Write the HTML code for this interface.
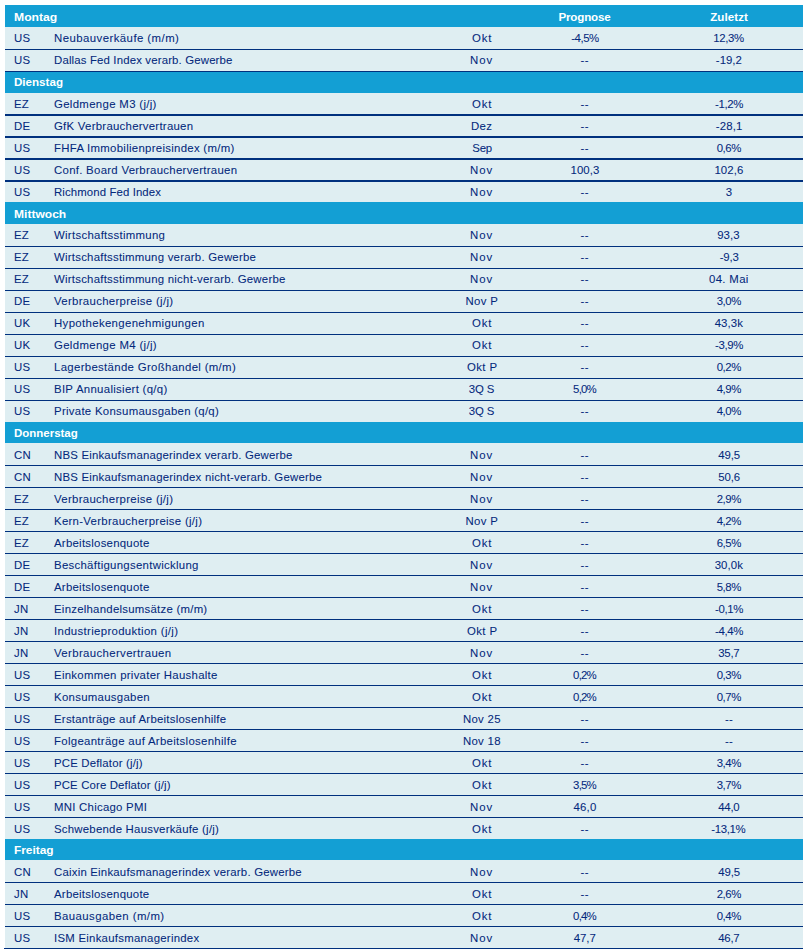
<!DOCTYPE html>
<html lang="de">
<head>
<meta charset="utf-8">
<title>Wochenkalender</title>
<style>
html,body{margin:0;padding:0;background:#fff;}
body{width:807px;height:952px;overflow:hidden;position:relative;font-family:"Liberation Sans",Arial,sans-serif;}
.tbl{position:absolute;left:5px;top:0;width:798px;height:952px;}
.row{position:absolute;left:0;width:100%;background:#dfeef2;}
.row.day{background:#139fd4;}
.ln{position:absolute;left:0;width:100%;height:1px;background:#00307e;}
.ln.thick{height:2px;}
.ln.end{left:-1px;width:calc(100% + 1px);}
.c{position:absolute;white-space:nowrap;line-height:14px;height:14px;font-size:11.4px;color:#03287c;letter-spacing:0.22px;-webkit-text-stroke:0.06px #03287c;}
.day .c{font-weight:bold;color:#fff;font-size:11.6px;letter-spacing:0;-webkit-text-stroke:0;}
.cc{text-align:center;width:120px;}
.cty{left:9px;}.ind{left:49px;}.day .lbl{transform-origin:0 0;}
</style>
</head>
<body>
<div class="tbl">
<div class="row day" style="top:5px;height:22px"><span class="c lbl" style="top:4.9px;left:9px;transform:scaleX(1.05)">Montag</span><span class="c cc" style="top:4.9px;left:519.5px;letter-spacing:-0.186px">Prognose</span><span class="c cc" style="top:4.9px;left:664.1px;letter-spacing:0.067px">Zuletzt</span></div>
<div class="row" style="top:27px;height:23px">
  <span class="c cty" style="top:4.05px">US</span>
  <span class="c ind" style="top:4.05px;letter-spacing:0.441px">Neubauverkäufe (m/m)</span>
  <span class="c cc" style="top:4.05px;left:417.15px;letter-spacing:0.87px">Okt</span>
  <span class="c cc" style="top:4.05px;left:520px;letter-spacing:-0.43px">-4,5%</span>
  <span class="c cc" style="top:4.05px;left:663.45px;letter-spacing:-0.355px">12,3%</span>
  <div class="ln" style="top:22px"></div>
</div>
<div class="row" style="top:50px;height:22px">
  <span class="c cty" style="top:3.05px">US</span>
  <span class="c ind" style="top:3.05px;letter-spacing:0.159px">Dallas Fed Index verarb. Gewerbe</span>
  <span class="c cc" style="top:3.05px;left:416.65px;letter-spacing:0.97px">Nov</span>
  <span class="c cc" style="top:3.05px;left:519.75px;letter-spacing:0.52px">--</span>
  <span class="c cc" style="top:3.05px;left:663.85px;letter-spacing:-0.005px">-19,2</span>
  <div class="ln" style="top:21px"></div>
</div>
<div class="row day" style="top:72px;height:21px"><span class="c lbl" style="top:2.9px;left:9px;transform:scaleX(1)">Dienstag</span></div>
<div class="row" style="top:93px;height:23px">
  <span class="c cty" style="top:4.05px">EZ</span>
  <span class="c ind" style="top:4.05px;letter-spacing:0.326px">Geldmenge M3 (j/j)</span>
  <span class="c cc" style="top:4.05px;left:417.15px;letter-spacing:0.87px">Okt</span>
  <span class="c cc" style="top:4.05px;left:519.75px;letter-spacing:0.52px">--</span>
  <span class="c cc" style="top:4.05px;left:664.1px;letter-spacing:-0.33px">-1,2%</span>
  <div class="ln thick" style="top:21px"></div>
</div>
<div class="row" style="top:116px;height:22px">
  <span class="c cty" style="top:3.05px">DE</span>
  <span class="c ind" style="top:3.05px;letter-spacing:0.263px">GfK Verbrauchervertrauen</span>
  <span class="c cc" style="top:3.05px;left:416.65px;letter-spacing:0.27px">Dez</span>
  <span class="c cc" style="top:3.05px;left:519.75px;letter-spacing:0.52px">--</span>
  <span class="c cc" style="top:3.05px;left:664.15px;letter-spacing:0.145px">-28,1</span>
  <div class="ln thick" style="top:20px"></div>
</div>
<div class="row" style="top:138px;height:22px">
  <span class="c cty" style="top:3.05px">US</span>
  <span class="c ind" style="top:3.05px;letter-spacing:0.29px">FHFA Immobilienpreisindex (m/m)</span>
  <span class="c cc" style="top:3.05px;left:417.1px;letter-spacing:-0.18px">Sep</span>
  <span class="c cc" style="top:3.05px;left:519.75px;letter-spacing:0.52px">--</span>
  <span class="c cc" style="top:3.05px;left:663.85px;letter-spacing:-0.413px">0,6%</span>
  <div class="ln thick" style="top:20px"></div>
</div>
<div class="row" style="top:160px;height:22px">
  <span class="c cty" style="top:3.05px">US</span>
  <span class="c ind" style="top:3.05px;letter-spacing:0.288px">Conf. Board Verbrauchervertrauen</span>
  <span class="c cc" style="top:3.05px;left:416.65px;letter-spacing:0.97px">Nov</span>
  <span class="c cc" style="top:3.05px;left:520px;letter-spacing:0.07px">100,3</span>
  <span class="c cc" style="top:3.05px;left:663.9px;letter-spacing:0.07px">102,6</span>
  <div class="ln thick" style="top:20px"></div>
</div>
<div class="row" style="top:182px;height:20px">
  <span class="c cty" style="top:3.05px">US</span>
  <span class="c ind" style="top:3.05px;letter-spacing:0.108px">Richmond Fed Index</span>
  <span class="c cc" style="top:3.05px;left:416.65px;letter-spacing:0.97px">Nov</span>
  <span class="c cc" style="top:3.05px;left:519.75px;letter-spacing:0.52px">--</span>
  <span class="c cc" style="top:3.05px;left:664.1px">3</span>
</div>
<div class="row day" style="top:202px;height:22px"><span class="c lbl" style="top:4.9px;left:9px;transform:scaleX(1.039)">Mittwoch</span></div>
<div class="row" style="top:224px;height:23px">
  <span class="c cty" style="top:4.05px">EZ</span>
  <span class="c ind" style="top:4.05px;letter-spacing:0.292px">Wirtschaftsstimmung</span>
  <span class="c cc" style="top:4.05px;left:416.65px;letter-spacing:0.97px">Nov</span>
  <span class="c cc" style="top:4.05px;left:519.75px;letter-spacing:0.52px">--</span>
  <span class="c cc" style="top:4.05px;left:663.4px;letter-spacing:0.087px">93,3</span>
  <div class="ln" style="top:22px"></div>
</div>
<div class="row" style="top:247px;height:22px">
  <span class="c cty" style="top:3.05px">EZ</span>
  <span class="c ind" style="top:3.05px;letter-spacing:0.241px">Wirtschaftsstimmung verarb. Gewerbe</span>
  <span class="c cc" style="top:3.05px;left:416.65px;letter-spacing:0.97px">Nov</span>
  <span class="c cc" style="top:3.05px;left:519.75px;letter-spacing:0.52px">--</span>
  <span class="c cc" style="top:3.05px;left:664.2px;letter-spacing:-0.18px">-9,3</span>
  <div class="ln" style="top:21px"></div>
</div>
<div class="row" style="top:269px;height:22px">
  <span class="c cty" style="top:3.05px">EZ</span>
  <span class="c ind" style="top:3.05px;letter-spacing:0.245px">Wirtschaftsstimmung nicht-verarb. Gewerbe</span>
  <span class="c cc" style="top:3.05px;left:416.65px;letter-spacing:0.97px">Nov</span>
  <span class="c cc" style="top:3.05px;left:519.75px;letter-spacing:0.52px">--</span>
  <span class="c cc" style="top:3.05px;left:663.85px;letter-spacing:0.337px">04. Mai</span>
  <div class="ln" style="top:21px"></div>
</div>
<div class="row" style="top:291px;height:22px">
  <span class="c cty" style="top:3.05px">DE</span>
  <span class="c ind" style="top:3.05px;letter-spacing:0.32px">Verbraucherpreise (j/j)</span>
  <span class="c cc" style="top:3.05px;left:416.75px;letter-spacing:0.345px">Nov P</span>
  <span class="c cc" style="top:3.05px;left:519.75px;letter-spacing:0.52px">--</span>
  <span class="c cc" style="top:3.05px;left:663.85px;letter-spacing:-0.413px">3,0%</span>
  <div class="ln" style="top:21px"></div>
</div>
<div class="row" style="top:313px;height:22px">
  <span class="c cty" style="top:3.05px">UK</span>
  <span class="c ind" style="top:3.05px;letter-spacing:0.352px">Hypothekengenehmigungen</span>
  <span class="c cc" style="top:3.05px;left:417.15px;letter-spacing:0.87px">Okt</span>
  <span class="c cc" style="top:3.05px;left:519.75px;letter-spacing:0.52px">--</span>
  <span class="c cc" style="top:3.05px;left:663.8px;letter-spacing:0.07px">43,3k</span>
  <div class="ln" style="top:21px"></div>
</div>
<div class="row" style="top:335px;height:22px">
  <span class="c cty" style="top:3.05px">UK</span>
  <span class="c ind" style="top:3.05px;letter-spacing:0.338px">Geldmenge M4 (j/j)</span>
  <span class="c cc" style="top:3.05px;left:417.15px;letter-spacing:0.87px">Okt</span>
  <span class="c cc" style="top:3.05px;left:519.75px;letter-spacing:0.52px">--</span>
  <span class="c cc" style="top:3.05px;left:664.1px;letter-spacing:-0.33px">-3,9%</span>
  <div class="ln" style="top:21px"></div>
</div>
<div class="row" style="top:357px;height:22px">
  <span class="c cty" style="top:3.05px">US</span>
  <span class="c ind" style="top:3.05px;letter-spacing:0.327px">Lagerbestände Großhandel (m/m)</span>
  <span class="c cc" style="top:3.05px;left:417.25px;letter-spacing:0.445px">Okt P</span>
  <span class="c cc" style="top:3.05px;left:519.75px;letter-spacing:0.52px">--</span>
  <span class="c cc" style="top:3.05px;left:663.85px;letter-spacing:-0.413px">0,2%</span>
  <div class="ln" style="top:21px"></div>
</div>
<div class="row" style="top:379px;height:22px">
  <span class="c cty" style="top:3.05px">US</span>
  <span class="c ind" style="top:3.05px;letter-spacing:0.306px">BIP Annualisiert (q/q)</span>
  <span class="c cc" style="top:3.05px;left:416.55px;letter-spacing:-0.147px">3Q S</span>
  <span class="c cc" style="top:3.05px;left:519.5px;letter-spacing:-0.78px">5,0%</span>
  <span class="c cc" style="top:3.05px;left:663.85px;letter-spacing:-0.413px">4,9%</span>
  <div class="ln" style="top:21px"></div>
</div>
<div class="row" style="top:401px;height:21px">
  <span class="c cty" style="top:3.05px">US</span>
  <span class="c ind" style="top:3.05px;letter-spacing:0.287px">Private Konsumausgaben (q/q)</span>
  <span class="c cc" style="top:3.05px;left:416.55px;letter-spacing:-0.147px">3Q S</span>
  <span class="c cc" style="top:3.05px;left:519.75px;letter-spacing:0.52px">--</span>
  <span class="c cc" style="top:3.05px;left:663.85px;letter-spacing:-0.413px">4,0%</span>
</div>
<div class="row day" style="top:422px;height:21px"><span class="c lbl" style="top:3.9px;left:9px;transform:scaleX(0.989)">Donnerstag</span></div>
<div class="row" style="top:443px;height:23px">
  <span class="c cty" style="top:5.05px">CN</span>
  <span class="c ind" style="top:5.05px;letter-spacing:0.202px">NBS Einkaufsmanagerindex verarb. Gewerbe</span>
  <span class="c cc" style="top:5.05px;left:416.65px;letter-spacing:0.97px">Nov</span>
  <span class="c cc" style="top:5.05px;left:519.75px;letter-spacing:0.52px">--</span>
  <span class="c cc" style="top:5.05px;left:664.15px;letter-spacing:-0.08px">49,5</span>
  <div class="ln" style="top:22px"></div>
</div>
<div class="row" style="top:466px;height:22px">
  <span class="c cty" style="top:4.05px">CN</span>
  <span class="c ind" style="top:4.05px;letter-spacing:0.211px">NBS Einkaufsmanagerindex nicht-verarb. Gewerbe</span>
  <span class="c cc" style="top:4.05px;left:416.65px;letter-spacing:0.97px">Nov</span>
  <span class="c cc" style="top:4.05px;left:519.75px;letter-spacing:0.52px">--</span>
  <span class="c cc" style="top:4.05px;left:664.15px;letter-spacing:-0.08px">50,6</span>
  <div class="ln" style="top:21px"></div>
</div>
<div class="row" style="top:488px;height:22px">
  <span class="c cty" style="top:4.05px">EZ</span>
  <span class="c ind" style="top:4.05px;letter-spacing:0.315px">Verbraucherpreise (j/j)</span>
  <span class="c cc" style="top:4.05px;left:416.65px;letter-spacing:0.97px">Nov</span>
  <span class="c cc" style="top:4.05px;left:519.75px;letter-spacing:0.52px">--</span>
  <span class="c cc" style="top:4.05px;left:663.85px;letter-spacing:-0.413px">2,9%</span>
  <div class="ln" style="top:21px"></div>
</div>
<div class="row" style="top:510px;height:22px">
  <span class="c cty" style="top:4.05px">EZ</span>
  <span class="c ind" style="top:4.05px;letter-spacing:0.298px">Kern-Verbraucherpreise (j/j)</span>
  <span class="c cc" style="top:4.05px;left:416.75px;letter-spacing:0.345px">Nov P</span>
  <span class="c cc" style="top:4.05px;left:519.75px;letter-spacing:0.52px">--</span>
  <span class="c cc" style="top:4.05px;left:663.85px;letter-spacing:-0.413px">4,2%</span>
  <div class="ln" style="top:21px"></div>
</div>
<div class="row" style="top:532px;height:22px">
  <span class="c cty" style="top:4.05px">EZ</span>
  <span class="c ind" style="top:4.05px;letter-spacing:0.257px">Arbeitslosenquote</span>
  <span class="c cc" style="top:4.05px;left:417.15px;letter-spacing:0.87px">Okt</span>
  <span class="c cc" style="top:4.05px;left:519.75px;letter-spacing:0.52px">--</span>
  <span class="c cc" style="top:4.05px;left:663.85px;letter-spacing:-0.413px">6,5%</span>
  <div class="ln" style="top:21px"></div>
</div>
<div class="row" style="top:554px;height:22px">
  <span class="c cty" style="top:4.05px">DE</span>
  <span class="c ind" style="top:4.05px;letter-spacing:0.291px">Beschäftigungsentwicklung</span>
  <span class="c cc" style="top:4.05px;left:416.65px;letter-spacing:0.97px">Nov</span>
  <span class="c cc" style="top:4.05px;left:519.75px;letter-spacing:0.52px">--</span>
  <span class="c cc" style="top:4.05px;left:663.8px;letter-spacing:0.07px">30,0k</span>
  <div class="ln" style="top:21px"></div>
</div>
<div class="row" style="top:576px;height:22px">
  <span class="c cty" style="top:4.05px">DE</span>
  <span class="c ind" style="top:4.05px;letter-spacing:0.257px">Arbeitslosenquote</span>
  <span class="c cc" style="top:4.05px;left:416.65px;letter-spacing:0.97px">Nov</span>
  <span class="c cc" style="top:4.05px;left:519.75px;letter-spacing:0.52px">--</span>
  <span class="c cc" style="top:4.05px;left:663.85px;letter-spacing:-0.413px">5,8%</span>
  <div class="ln" style="top:21px"></div>
</div>
<div class="row" style="top:598px;height:22px">
  <span class="c cty" style="top:4.05px">JN</span>
  <span class="c ind" style="top:4.05px;letter-spacing:0.252px">Einzelhandelsumsätze (m/m)</span>
  <span class="c cc" style="top:4.05px;left:417.15px;letter-spacing:0.87px">Okt</span>
  <span class="c cc" style="top:4.05px;left:519.75px;letter-spacing:0.52px">--</span>
  <span class="c cc" style="top:4.05px;left:664.1px;letter-spacing:-0.33px">-0,1%</span>
  <div class="ln" style="top:21px"></div>
</div>
<div class="row" style="top:620px;height:22px">
  <span class="c cty" style="top:4.05px">JN</span>
  <span class="c ind" style="top:4.05px;letter-spacing:0.337px">Industrieproduktion (j/j)</span>
  <span class="c cc" style="top:4.05px;left:417.25px;letter-spacing:0.445px">Okt P</span>
  <span class="c cc" style="top:4.05px;left:519.75px;letter-spacing:0.52px">--</span>
  <span class="c cc" style="top:4.05px;left:664.1px;letter-spacing:-0.33px">-4,4%</span>
  <div class="ln" style="top:21px"></div>
</div>
<div class="row" style="top:642px;height:22px">
  <span class="c cty" style="top:4.05px">JN</span>
  <span class="c ind" style="top:4.05px;letter-spacing:0.367px">Verbrauchervertrauen</span>
  <span class="c cc" style="top:4.05px;left:416.65px;letter-spacing:0.97px">Nov</span>
  <span class="c cc" style="top:4.05px;left:519.75px;letter-spacing:0.52px">--</span>
  <span class="c cc" style="top:4.05px;left:663.85px;letter-spacing:-0.28px">35,7</span>
  <div class="ln" style="top:21px"></div>
</div>
<div class="row" style="top:664px;height:22px">
  <span class="c cty" style="top:4.05px">US</span>
  <span class="c ind" style="top:4.05px;letter-spacing:0.283px">Einkommen privater Haushalte</span>
  <span class="c cc" style="top:4.05px;left:417.15px;letter-spacing:0.87px">Okt</span>
  <span class="c cc" style="top:4.05px;left:519.5px;letter-spacing:-0.78px">0,2%</span>
  <span class="c cc" style="top:4.05px;left:663.85px;letter-spacing:-0.413px">0,3%</span>
  <div class="ln" style="top:21px"></div>
</div>
<div class="row" style="top:686px;height:22px">
  <span class="c cty" style="top:4.05px">US</span>
  <span class="c ind" style="top:4.05px;letter-spacing:0.297px">Konsumausgaben</span>
  <span class="c cc" style="top:4.05px;left:417.15px;letter-spacing:0.87px">Okt</span>
  <span class="c cc" style="top:4.05px;left:519.5px;letter-spacing:-0.78px">0,2%</span>
  <span class="c cc" style="top:4.05px;left:663.85px;letter-spacing:-0.413px">0,7%</span>
  <div class="ln" style="top:21px"></div>
</div>
<div class="row" style="top:708px;height:22px">
  <span class="c cty" style="top:4.05px">US</span>
  <span class="c ind" style="top:4.05px;letter-spacing:0.254px">Erstanträge auf Arbeitslosenhilfe</span>
  <span class="c cc" style="top:4.05px;left:416.95px;letter-spacing:0.32px">Nov 25</span>
  <span class="c cc" style="top:4.05px;left:519.75px;letter-spacing:0.52px">--</span>
  <span class="c cc" style="top:4.05px;left:663.9px;letter-spacing:0.02px">--</span>
  <div class="ln" style="top:21px"></div>
</div>
<div class="row" style="top:730px;height:22px">
  <span class="c cty" style="top:4.05px">US</span>
  <span class="c ind" style="top:4.05px;letter-spacing:0.311px">Folgeanträge auf Arbeitslosenhilfe</span>
  <span class="c cc" style="top:4.05px;left:416.95px;letter-spacing:0.32px">Nov 18</span>
  <span class="c cc" style="top:4.05px;left:519.75px;letter-spacing:0.52px">--</span>
  <span class="c cc" style="top:4.05px;left:663.9px;letter-spacing:0.02px">--</span>
  <div class="ln" style="top:21px"></div>
</div>
<div class="row" style="top:752px;height:22px">
  <span class="c cty" style="top:4.05px">US</span>
  <span class="c ind" style="top:4.05px;letter-spacing:0.179px">PCE Deflator (j/j)</span>
  <span class="c cc" style="top:4.05px;left:417.15px;letter-spacing:0.87px">Okt</span>
  <span class="c cc" style="top:4.05px;left:519.75px;letter-spacing:0.52px">--</span>
  <span class="c cc" style="top:4.05px;left:663.85px;letter-spacing:-0.413px">3,4%</span>
  <div class="ln" style="top:21px"></div>
</div>
<div class="row" style="top:774px;height:22px">
  <span class="c cty" style="top:4.05px">US</span>
  <span class="c ind" style="top:4.05px;letter-spacing:0.143px">PCE Core Deflator (j/j)</span>
  <span class="c cc" style="top:4.05px;left:417.15px;letter-spacing:0.87px">Okt</span>
  <span class="c cc" style="top:4.05px;left:519.5px;letter-spacing:-0.78px">3,5%</span>
  <span class="c cc" style="top:4.05px;left:663.85px;letter-spacing:-0.413px">3,7%</span>
  <div class="ln" style="top:21px"></div>
</div>
<div class="row" style="top:796px;height:22px">
  <span class="c cty" style="top:4.05px">US</span>
  <span class="c ind" style="top:4.05px;letter-spacing:0.256px">MNI Chicago PMI</span>
  <span class="c cc" style="top:4.05px;left:416.65px;letter-spacing:0.97px">Nov</span>
  <span class="c cc" style="top:4.05px;left:520.05px;letter-spacing:0.187px">46,0</span>
  <span class="c cc" style="top:4.05px;left:663.85px;letter-spacing:-0.28px">44,0</span>
  <div class="ln" style="top:21px"></div>
</div>
<div class="row" style="top:818px;height:21px">
  <span class="c cty" style="top:4.05px">US</span>
  <span class="c ind" style="top:4.05px;letter-spacing:0.234px">Schwebende Hausverkäufe (j/j)</span>
  <span class="c cc" style="top:4.05px;left:417.15px;letter-spacing:0.87px">Okt</span>
  <span class="c cc" style="top:4.05px;left:519.75px;letter-spacing:0.52px">--</span>
  <span class="c cc" style="top:4.05px;left:663.35px;letter-spacing:-0.32px">-13,1%</span>
</div>
<div class="row day" style="top:839px;height:21px"><span class="c lbl" style="top:3.9px;left:9px;transform:scaleX(1.024)">Freitag</span></div>
<div class="row" style="top:860px;height:23px">
  <span class="c cty" style="top:5.05px">CN</span>
  <span class="c ind" style="top:5.05px;letter-spacing:0.213px">Caixin Einkaufsmanagerindex verarb. Gewerbe</span>
  <span class="c cc" style="top:5.05px;left:416.65px;letter-spacing:0.97px">Nov</span>
  <span class="c cc" style="top:5.05px;left:519.75px;letter-spacing:0.52px">--</span>
  <span class="c cc" style="top:5.05px;left:664.15px;letter-spacing:-0.08px">49,5</span>
  <div class="ln" style="top:22px"></div>
</div>
<div class="row" style="top:883px;height:22px">
  <span class="c cty" style="top:4.05px">JN</span>
  <span class="c ind" style="top:4.05px;letter-spacing:0.251px">Arbeitslosenquote</span>
  <span class="c cc" style="top:4.05px;left:417.15px;letter-spacing:0.87px">Okt</span>
  <span class="c cc" style="top:4.05px;left:519.75px;letter-spacing:0.52px">--</span>
  <span class="c cc" style="top:4.05px;left:663.85px;letter-spacing:-0.413px">2,6%</span>
  <div class="ln" style="top:21px"></div>
</div>
<div class="row" style="top:905px;height:22px">
  <span class="c cty" style="top:4.05px">US</span>
  <span class="c ind" style="top:4.05px;letter-spacing:0.433px">Bauausgaben (m/m)</span>
  <span class="c cc" style="top:4.05px;left:417.15px;letter-spacing:0.87px">Okt</span>
  <span class="c cc" style="top:4.05px;left:519.5px;letter-spacing:-0.78px">0,4%</span>
  <span class="c cc" style="top:4.05px;left:663.85px;letter-spacing:-0.413px">0,4%</span>
  <div class="ln" style="top:21px"></div>
</div>
<div class="row" style="top:927px;height:22px">
  <span class="c cty" style="top:4.05px">US</span>
  <span class="c ind" style="top:4.05px;letter-spacing:0.255px">ISM Einkaufsmanagerindex</span>
  <span class="c cc" style="top:4.05px;left:416.65px;letter-spacing:0.97px">Nov</span>
  <span class="c cc" style="top:4.05px;left:519.75px;letter-spacing:-0.013px">47,7</span>
  <span class="c cc" style="top:4.05px;left:663.85px;letter-spacing:-0.28px">46,7</span>
  <div class="ln end" style="top:21px"></div>
</div>
</div>
</body>
</html>
